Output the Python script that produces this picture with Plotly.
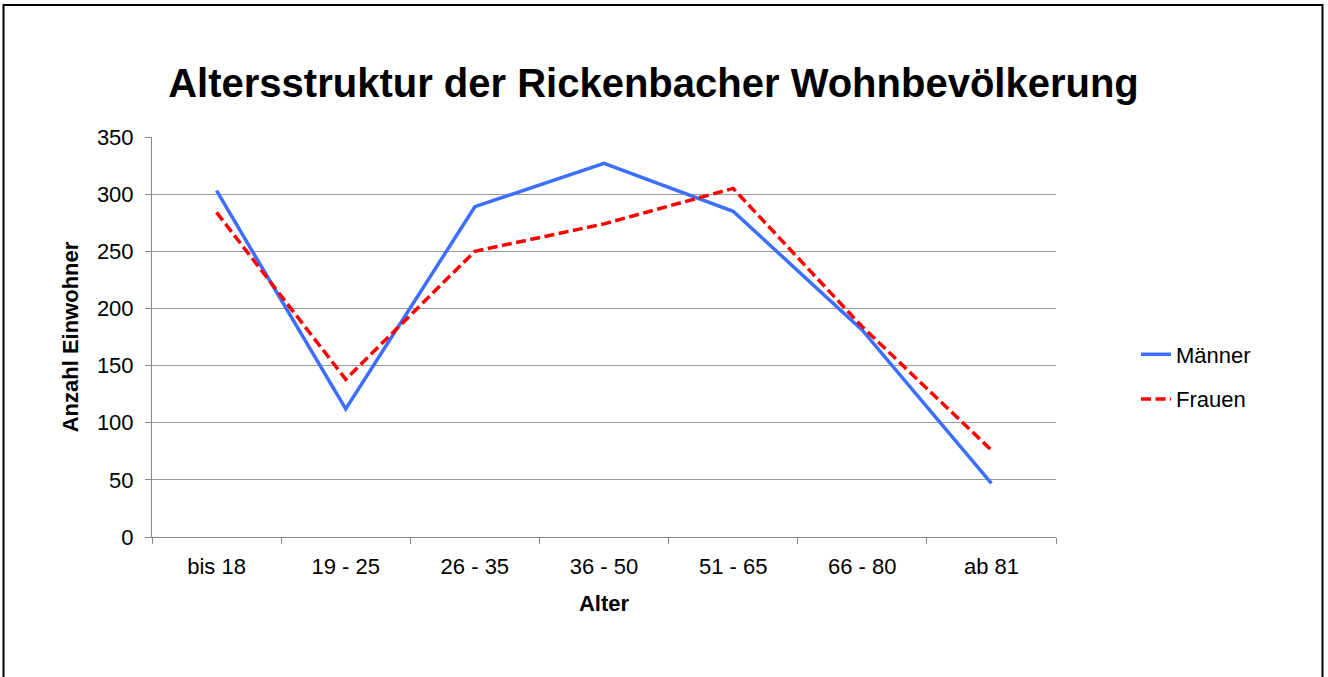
import plotly.graph_objects as go

categories = ["bis 18", "19 - 25", "26 - 35", "36 - 50", "51 - 65", "66 - 80", "ab 81"]
maenner = [303, 112, 289, 327, 285, 181, 47]
frauen = [284, 138, 250, 274, 305, 184, 76]
y_ticks = [0, 50, 100, 150, 200, 250, 300, 350]

W, H = 1328, 677
L, R, T, B = 152, 1056, 137, 537

fig = go.Figure()
fig.add_trace(go.Scatter(x=categories, y=maenner, name="Männer", mode="lines",
                         legendgroup="m",
                         line=dict(color="#3C6EFF", width=3.5)))
fig.add_trace(go.Scatter(x=categories, y=frauen, name="Frauen", mode="lines",
                         legendgroup="f",
                         line=dict(color="#FF0000", width=3.5, dash="10px,4.5px")))

pw, ph = R - L, B - T
def px_x(p):
    return (p - L) / pw
def px_y(p):
    return (B - p) / ph

FS = 22
fig.update_layout(
    width=W, height=H,
    margin=dict(l=L, r=W - R, t=T, b=H - B, autoexpand=False),
    paper_bgcolor="white", plot_bgcolor="white",
    font=dict(family="Liberation Sans, Arial, sans-serif", size=FS, color="black"),
    title=dict(text="<b>Altersstruktur der Rickenbacher Wohnbevölkerung</b>",
               x=653.5 / W, xref="container", xanchor="center",
               y=1 - 83 / H, yref="container", yanchor="middle",
               font=dict(size=40, color="black")),
    xaxis=dict(
        title=dict(text="<b>Alter</b>", font=dict(size=FS), standoff=17),
        type="category", tickson="boundaries", ticks="outside", ticklen=6,
        tickcolor="#888888", showline=True, linecolor="#888888", linewidth=1,
        showgrid=False, range=[-0.5, 6.5], tickfont=dict(size=FS),
        ticklabelstandoff=10,
    ),
    yaxis=dict(
        title=dict(text="<b>Anzahl Einwohner</b>", font=dict(size=FS), standoff=12),
        range=[0, 350], tickvals=y_ticks, ticks="outside", ticklen=6,
        tickcolor="#888888", showline=True, linecolor="#888888", linewidth=1,
        showgrid=True, gridcolor="#999999", gridwidth=1, zeroline=False,
        tickfont=dict(size=FS), ticklabelstandoff=7,
    ),
    legend=dict(x=px_x(1136), y=px_y(377), xanchor="left", yanchor="middle",
                font=dict(size=FS), tracegroupgap=13, bgcolor="rgba(0,0,0,0)"),
    showlegend=True,
    shapes=[dict(type="rect", xref="paper", yref="paper",
                 x0=px_x(3.5), x1=px_x(1322.5), y0=px_y(690), y1=px_y(5),
                 line=dict(color="black", width=2), fillcolor="rgba(0,0,0,0)",
                 layer="below")],
)

fig.write_html("out.html", config={"displayModeBar": False},
               post_script="document.body.style.margin='0';")
